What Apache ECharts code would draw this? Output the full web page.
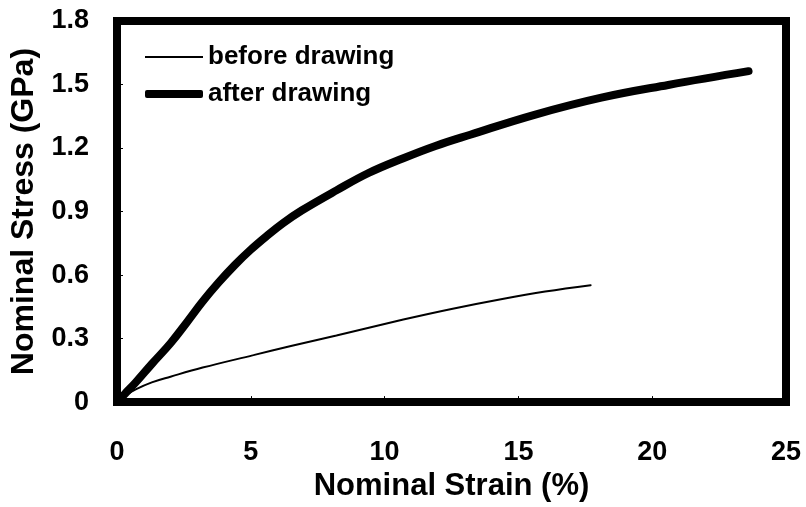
<!DOCTYPE html>
<html>
<head>
<meta charset="utf-8">
<script src="https://cdn.jsdelivr.net/npm/echarts@6/dist/echarts.min.js"></script>
<style>html,body{margin:0;padding:0;background:#fff;}#c{width:806px;height:507px;}</style>
</head>
<body>
<div id="c"></div>
<script>
const beforeStrain = [0, 0.3, 0.7, 1.3, 2.0, 3.2, 5.1, 6.5, 8.2, 10.7, 12.5, 14.4, 16.0, 17.7];
const beforeStress = [0, 0.03, 0.06, 0.093, 0.12, 0.163, 0.222, 0.265, 0.315, 0.39, 0.44, 0.487, 0.522, 0.552];
const afterStrain = [0, 0.3, 0.7, 1.3, 2.0, 2.6, 3.2, 3.8, 4.4, 5.0, 5.6, 6.2, 6.9, 8.2, 9.4, 10.7, 11.9, 13.2, 15.6, 18.1, 20.6, 23.6];
const afterStress = [0, 0.04, 0.093, 0.18, 0.278, 0.375, 0.475, 0.565, 0.647, 0.72, 0.785, 0.845, 0.905, 1.0, 1.082, 1.152, 1.21, 1.263, 1.357, 1.438, 1.498, 1.563];
const xTicks = [0, 5, 10, 15, 20, 25];
const yTicks = [0, 0.3, 0.6, 0.9, 1.2, 1.5, 1.8];
const seriesNames = ['before drawing', 'after drawing'];

const pair = (xs, ys) => xs.map((x, i) => [x, ys[i]]);
const font = '"Liberation Sans", Arial, sans-serif';
const legendText = {fontFamily: font, fontWeight: 'bold', fontSize: 26, color: '#000'};
const chart = echarts.init(document.getElementById('c'), null, {renderer: 'canvas'});
chart.setOption({
  animation: false,
  backgroundColor: '#fff',
  grid: {left: 114, right: 20, top: 21, bottom: 96, show: true, borderColor: '#000', borderWidth: 8, backgroundColor: 'transparent'},
  legend: [
    {left: 145, top: 44, padding: 0, itemWidth: 58, itemHeight: 2, icon: 'rect',
      data: [seriesNames[0]], textStyle: legendText},
    {left: 145, top: 81, padding: 0, itemWidth: 58, itemHeight: 8, icon: 'roundRect',
      data: [seriesNames[1]], textStyle: legendText}
  ],
  xAxis: {
    type: 'value', min: xTicks[0], max: xTicks[xTicks.length - 1], interval: 5,
    name: 'Nominal Strain (%)', nameLocation: 'middle', nameGap: 68,
    nameTextStyle: {fontFamily: font, fontWeight: 'bold', fontSize: 31, color: '#000'},
    axisLine: {show: false},
    axisTick: {show: true, inside: true, length: 6, lineStyle: {color: '#000', width: 1}},
    axisLabel: {fontFamily: font, fontWeight: 'bold', fontSize: 27, color: '#000', margin: 37},
    splitLine: {show: false}
  },
  yAxis: {
    type: 'value', min: yTicks[0], max: yTicks[yTicks.length - 1], interval: 0.3,
    name: 'Nominal Stress (GPa)', nameLocation: 'middle', nameGap: 77,
    nameTextStyle: {fontFamily: font, fontWeight: 'bold', fontSize: 32, color: '#000'},
    axisLine: {show: false},
    axisTick: {show: true, inside: true, length: 6, lineStyle: {color: '#000', width: 1}},
    axisLabel: {fontFamily: font, fontWeight: 'bold', fontSize: 27, color: '#000', margin: 28,
      formatter: v => (v === 0 ? '0' : v.toFixed(1))},
    splitLine: {show: false}
  },
  series: [
    {name: seriesNames[0], type: 'line', data: pair(beforeStrain, beforeStress), smooth: 0.4, symbol: 'none',
      lineStyle: {color: '#000', width: 2, cap: 'round'}, itemStyle: {color: '#000'}},
    {name: seriesNames[1], type: 'line', data: pair(afterStrain, afterStress), smooth: 0.4, symbol: 'none',
      lineStyle: {color: '#000', width: 8, cap: 'round', join: 'round'}, itemStyle: {color: '#000'}}
  ]
});
</script>
</body>
</html>
